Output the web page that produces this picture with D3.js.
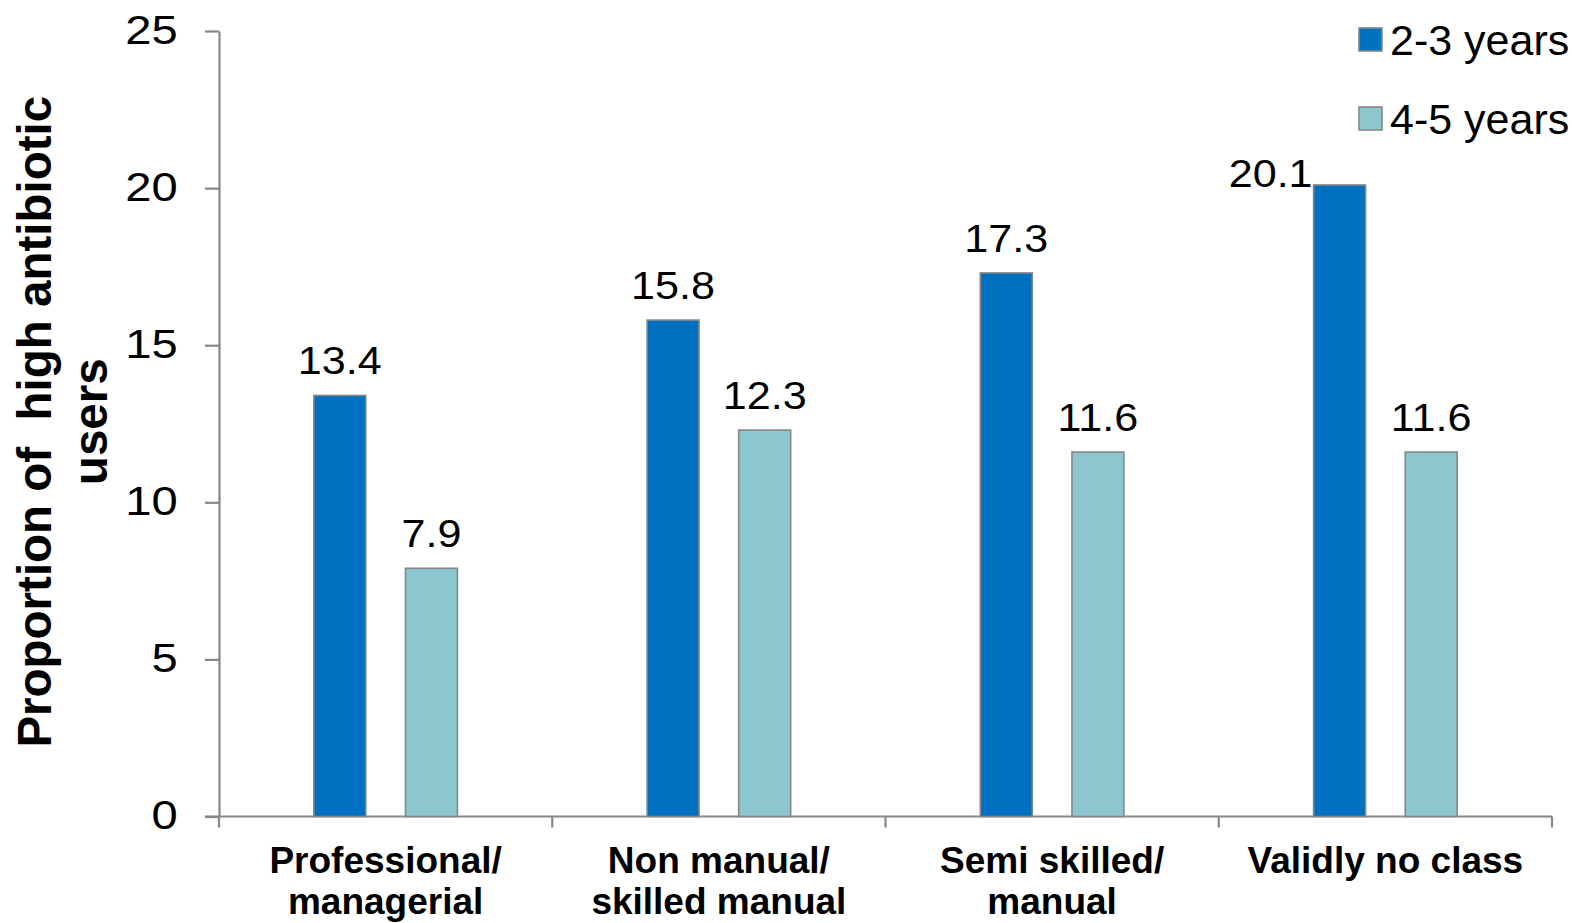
<!DOCTYPE html>
<html>
<head>
<meta charset="utf-8">
<script src="https://cdn.jsdelivr.net/npm/d3@7"></script>
<style>
  html, body { margin: 0; padding: 0; background: #fff; }
  svg { display: block; }
  text { font-family: "Liberation Sans", Arial, Helvetica, sans-serif; fill: #000; }
</style>
</head>
<body>
<svg id="chart" width="1572" height="923"></svg>
<script>
// Antibiotic use by social class, two age groups
const categories = [
  ["Professional/", "managerial"],
  ["Non manual/", "skilled manual"],
  ["Semi skilled/", "manual"],
  ["Validly no class"]
];
const seriesNames = ["2-3 years", "4-5 years"];
const values2to3 = [13.4, 15.8, 17.3, 20.1];
const values4to5 = [7.9, 12.3, 11.6, 11.6];
const yTicks = [0, 5, 10, 15, 20, 25];
const yTitleLines = ["Proportion of  high antibiotic", "users"];

const colors = ["#0070C0", "#8CC6CE"];
const strokeGray = "#878787";

const svg = d3.select("#chart");
const plot = { left: 219, right: 1552, top: 31, bottom: 816.5 };

const catKeys = categories.map((c, i) => i);
const x0 = d3.scaleBand().domain(catKeys).range([plot.left, plot.right]).padding(0);
const x1 = d3.scaleBand().domain(seriesNames).range([0, x0.bandwidth()])
  .paddingInner(0.433).paddingOuter(1.035);
const y = d3.scaleLinear().domain([0, 25]).range([plot.bottom, plot.top]);

const rows = catKeys.map(i => ({
  cat: i,
  vals: [
    { s: seriesNames[0], v: values2to3[i], c: colors[0] },
    { s: seriesNames[1], v: values4to5[i], c: colors[1] }
  ]
}));

// Y axis
const yAxis = svg.append("g")
  .attr("transform", `translate(${plot.left},0)`)
  .call(d3.axisLeft(y).tickValues(yTicks).tickSize(14).tickPadding(22).tickSizeOuter(0));
yAxis.select(".domain").attr("stroke", strokeGray).attr("stroke-width", 2.2);
yAxis.selectAll(".tick line").attr("stroke", strokeGray).attr("stroke-width", 2.2);
yAxis.selectAll(".tick text")
  .attr("font-size", 41)
  .attr("dy", "0.3em")
  .attr("transform", "scale(1.15,1)")
  .style("font-family", "'Liberation Sans', Arial, sans-serif");

// X axis line and category boundary ticks
const xAxis = svg.append("g");
xAxis.append("line")
  .attr("x1", plot.left - 14).attr("x2", plot.right)
  .attr("y1", y(0)).attr("y2", y(0))
  .attr("stroke", strokeGray).attr("stroke-width", 2.2);
const boundaries = catKeys.map(i => x0(i)).concat([x0(catKeys[catKeys.length - 1]) + x0.bandwidth()]);
xAxis.selectAll("line.tick").data(boundaries).enter().append("line")
  .attr("class", "tick")
  .attr("x1", d => d).attr("x2", d => d)
  .attr("y1", y(0)).attr("y2", y(0) + 11)
  .attr("stroke", strokeGray).attr("stroke-width", 2.2);

// Category labels
const catLabels = svg.append("g");
categories.forEach((lines, i) => {
  const t = catLabels.append("text")
    .attr("x", x0(i) + x0.bandwidth() / 2)
    .attr("y", 873)
    .attr("text-anchor", "middle")
    .attr("font-size", 37)
    .attr("font-weight", "bold");
  lines.forEach((ln, j) => {
    t.append("tspan")
      .attr("x", x0(i) + x0.bandwidth() / 2)
      .attr("dy", j === 0 ? 0 : 41)
      .text(ln);
  });
});

// Bars
const groups = svg.append("g").selectAll("g.grp").data(rows).enter().append("g")
  .attr("class", "grp")
  .attr("transform", d => `translate(${x0(d.cat)},0)`);

groups.selectAll("rect").data(d => d.vals).enter().append("rect")
  .attr("x", d => x1(d.s))
  .attr("width", x1.bandwidth())
  .attr("y", d => y(d.v))
  .attr("height", d => y(0) - y(d.v))
  .attr("fill", d => d.c)
  .attr("stroke", strokeGray)
  .attr("stroke-width", 1.6);

// Value labels; the tallest bar carries its label to the left so it clears the legend
const maxVal = d3.max(values2to3.concat(values4to5));
groups.selectAll("text.val").data(d => d.vals).enter().append("text")
  .attr("class", "val")
  .attr("font-size", 38.5)
  .attr("text-anchor", d => d.v === maxVal ? "end" : "middle")
  .attr("transform", d => {
    const tx = d.v === maxVal ? x1(d.s) - 1 : x1(d.s) + x1.bandwidth() / 2;
    const ty = d.v === maxVal ? y(d.v) + 2 : y(d.v) - 21;
    return `translate(${tx},${ty}) scale(1.12,1)`;
  })
  .text(d => d.v.toFixed(1));

// Y axis title
const yTitle = svg.append("text")
  .attr("transform", `translate(51,${(plot.top + plot.bottom) / 2 - 2}) rotate(-90)`)
  .attr("text-anchor", "middle")
  .attr("font-size", 47.5)
  .attr("font-weight", "bold")
  .attr("xml:space", "preserve")
  .style("white-space", "pre");
yTitleLines.forEach((ln, j) => {
  yTitle.append("tspan").attr("x", 0).attr("dy", j === 0 ? 0 : 56).text(ln);
});

// Legend
const legend = svg.append("g").attr("transform", "translate(1359,28)");
seriesNames.forEach((name, i) => {
  const g = legend.append("g").attr("transform", `translate(0,${i * 79})`);
  g.append("rect").attr("x", 0).attr("y", 0).attr("width", 23).attr("height", 23)
    .attr("fill", colors[i]).attr("stroke", strokeGray).attr("stroke-width", 1.6);
  g.append("text").attr("x", 31).attr("y", 27).attr("font-size", 43).text(name);
});
</script>
</body>
</html>
